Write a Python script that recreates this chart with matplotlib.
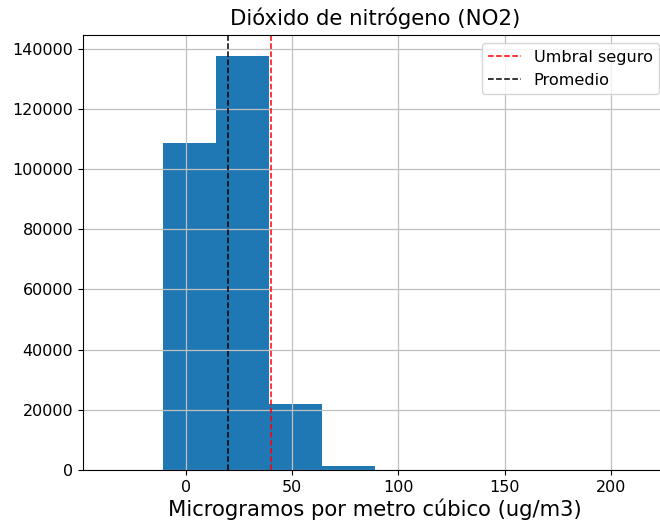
import numpy as np
import matplotlib
matplotlib.use("Agg")
import matplotlib.pyplot as plt

# Histogram of NO2 concentrations (10 equal-width bins)
data_min = -35.75
data_max = 213.75
n_bins = 10
counts = [1, 108800, 137700, 22000, 1300, 40, 10, 4, 2, 1]

umbral_seguro = 40
promedio = 20.1

edges = np.linspace(data_min, data_max, n_bins + 1)
centers = (edges[:-1] + edges[1:]) / 2

fig = plt.figure(figsize=(6.6, 5.29), dpi=100)
ax = fig.add_axes([83 / 660, 59 / 529, 584 / 660, 435 / 529])

ax.hist(centers, bins=edges, weights=counts, color="#1f77b4")
ax.grid(True, color="#c0c0c0", linewidth=0.9)
ax.axvline(umbral_seguro, color="r", linestyle="--", linewidth=1.1, label="Umbral seguro")
ax.axvline(promedio, color="k", linestyle="--", linewidth=1.1, label="Promedio")

ax.set_title("Dióxido de nitrógeno (NO2)", fontsize=15.3, pad=7)
ax.set_xlabel("Microgramos por metro cúbico (ug/m3)", fontsize=15.2, labelpad=3)
ax.tick_params(labelsize=11.5)
ax.legend(loc="upper right", fontsize=11.6)

fig.savefig("out.png", dpi=100)
